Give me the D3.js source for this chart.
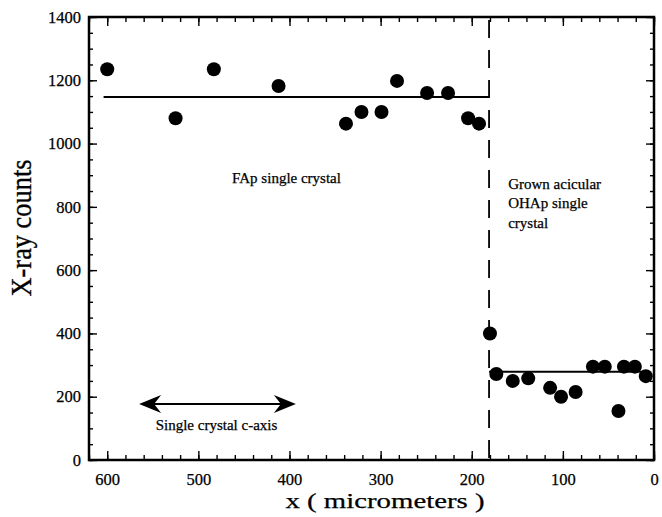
<!DOCTYPE html>
<html>
<head>
<meta charset="utf-8">
<script src="https://cdn.jsdelivr.net/npm/d3@7/dist/d3.min.js"></script>
<style>
  body { margin: 0; background: #fff; }
  svg { display: block; }
  text { font-family: "Liberation Serif", "Times New Roman", serif; fill: #000; stroke: #000; stroke-width: 0.25px; }
</style>
</head>
<body>
<svg width="662" height="517"></svg>
<script>
var width = 662, height = 517
var margin = {top: 17, right: 8, bottom: 57, left: 89}

// FAp single crystal region
var fapX = [600, 525, 483, 412, 338, 321, 299, 282, 249, 226, 204, 192]
var fapY = [1235, 1080, 1235, 1182, 1063, 1100, 1100, 1198, 1160, 1160, 1080, 1063]

// boundary point + grown OHAp region
var ohapX = [180, 173, 155, 138, 114, 102, 86, 67, 54, 39, 33, 21, 9]
var ohapY = [400, 272, 250, 258, 228, 200, 215, 295, 295, 155, 295, 295, 265]

// mean levels [x from, x to, counts]
var fitLines = [[604, 181, 1147], [181, 6, 279]]
var boundaryX = 181

var xTicks = [600, 500, 400, 300, 200, 100, 0]
var yTicks = [0, 200, 400, 600, 800, 1000, 1200, 1400]

var svg = d3.select('svg')

var x = d3.scaleLinear().domain([620, 0]).range([margin.left, width - margin.right])
var y = d3.scaleLinear().domain([0, 1400]).range([height - margin.bottom, margin.top])

var x0 = margin.left, x1 = width - margin.right
var y0 = height - margin.bottom, y1 = margin.top

// minor ticks
var xMinor = d3.range(0, 621, 20)
var yMinor = d3.range(0, 1401, 50)

function styleAxis(g) {
  g.select('.domain').remove()
  g.selectAll('.tick line').attr('stroke', '#000').attr('stroke-width', 1.4)
}

svg.append('g').attr('transform', 'translate(0,' + y0 + ')')
  .call(d3.axisBottom(x).tickValues(xMinor).tickSize(-5).tickFormat(''))
  .call(styleAxis)
svg.append('g').attr('transform', 'translate(0,' + y0 + ')')
  .call(d3.axisBottom(x).tickValues(xTicks).tickSize(-9).tickPadding(13).tickFormat(d3.format('d')))
  .call(styleAxis)
  .selectAll('text').style('font-size', '16.5px').attr('fill', '#000')

svg.append('g').attr('transform', 'translate(0,' + y1 + ')')
  .call(d3.axisTop(x).tickValues(xMinor).tickSize(-5).tickFormat(''))
  .call(styleAxis)
svg.append('g').attr('transform', 'translate(0,' + y1 + ')')
  .call(d3.axisTop(x).tickValues(xTicks).tickSize(-9).tickFormat(''))
  .call(styleAxis)

svg.append('g').attr('transform', 'translate(' + x0 + ',0)')
  .call(d3.axisLeft(y).tickValues(yMinor).tickSize(-4).tickFormat(''))
  .call(styleAxis)
svg.append('g').attr('transform', 'translate(' + x0 + ',0)')
  .call(d3.axisLeft(y).tickValues(yTicks).tickSize(-8).tickPadding(8).tickFormat(d3.format('d')))
  .call(styleAxis)
  .selectAll('text').style('font-size', '16.5px').attr('fill', '#000')

svg.append('g').attr('transform', 'translate(' + x1 + ',0)')
  .call(d3.axisRight(y).tickValues(yMinor).tickSize(-4).tickFormat(''))
  .call(styleAxis)
svg.append('g').attr('transform', 'translate(' + x1 + ',0)')
  .call(d3.axisRight(y).tickValues(yTicks).tickSize(-8).tickFormat(''))
  .call(styleAxis)

// frame
svg.append('rect')
  .attr('x', x0).attr('y', y1)
  .attr('width', x1 - x0).attr('height', y0 - y1)
  .attr('fill', 'none').attr('stroke', '#000').attr('stroke-width', 2.5)

// boundary (dashed)
svg.append('line')
  .attr('x1', x(boundaryX)).attr('x2', x(boundaryX))
  .attr('y1', y1 + 3).attr('y2', y0)
  .attr('stroke', '#000').attr('stroke-width', 1.8)
  .attr('stroke-dasharray', '18,12')

// mean lines
svg.selectAll('.fit').data(fitLines).enter().append('line')
  .attr('class', 'fit')
  .attr('x1', d => x(d[0])).attr('x2', d => x(d[1]))
  .attr('y1', d => y(d[2])).attr('y2', d => y(d[2]))
  .attr('stroke', '#000').attr('stroke-width', 2)

// points
var pts = fapX.map((v, i) => ({x: v, y: fapY[i]}))
  .concat(ohapX.map((v, i) => ({x: v, y: ohapY[i]})))

svg.selectAll('.pt').data(pts).enter().append('circle')
  .attr('class', 'pt')
  .attr('cx', d => x(d.x)).attr('cy', d => y(d.y))
  .attr('r', 7).attr('fill', '#000')

// c-axis double arrow
var arrowFrom = 565, arrowTo = 393, arrowY = 177
var ax1 = x(arrowFrom), ax2 = x(arrowTo), ay = y(arrowY)
svg.append('line')
  .attr('x1', ax1 + 10).attr('x2', ax2 - 10)
  .attr('y1', ay).attr('y2', ay)
  .attr('stroke', '#000').attr('stroke-width', 2)
svg.append('path')
  .attr('d', 'M' + ax1 + ',' + ay + ' L' + (ax1 + 22) + ',' + (ay - 9) +
    ' L' + (ax1 + 15) + ',' + ay + ' L' + (ax1 + 22) + ',' + (ay + 9) + 'Z')
  .attr('fill', '#000')
svg.append('path')
  .attr('d', 'M' + ax2 + ',' + ay + ' L' + (ax2 - 22) + ',' + (ay - 9) +
    ' L' + (ax2 - 15) + ',' + ay + ' L' + (ax2 - 22) + ',' + (ay + 9) + 'Z')
  .attr('fill', '#000')

svg.append('text')
  .attr('x', (ax1 + ax2) / 2 - 1).attr('y', ay + 26)
  .attr('text-anchor', 'middle')
  .style('font-size', '15px')
  .text('Single crystal c-axis')

// region labels
svg.append('text')
  .attr('x', x(463)).attr('y', y(876))
  .style('font-size', '15px')
  .text('FAp single crystal')

var ohapLabel = ['Grown acicular', 'OHAp single', 'crystal']
svg.append('text')
  .attr('x', x(160)).attr('y', y(857))
  .style('font-size', '15px')
  .selectAll('tspan').data(ohapLabel).enter().append('tspan')
  .attr('x', x(160))
  .attr('dy', (d, i) => i == 0 ? 0 : 19.5)
  .text(d => d)

// axis titles
svg.append('text')
  .attr('x', 385).attr('y', 508)
  .attr('text-anchor', 'middle')
  .attr('textLength', 199).attr('lengthAdjust', 'spacingAndGlyphs')
  .style('font-size', '21px')
  .text('x ( micrometers )')

svg.append('text')
  .attr('transform', 'translate(31,228) scale(1.3,1) rotate(-90)')
  .attr('text-anchor', 'middle')
  .attr('textLength', 137).attr('lengthAdjust', 'spacingAndGlyphs')
  .style('font-size', '22px')
  .text('X-ray counts')
</script>
</body>
</html>
